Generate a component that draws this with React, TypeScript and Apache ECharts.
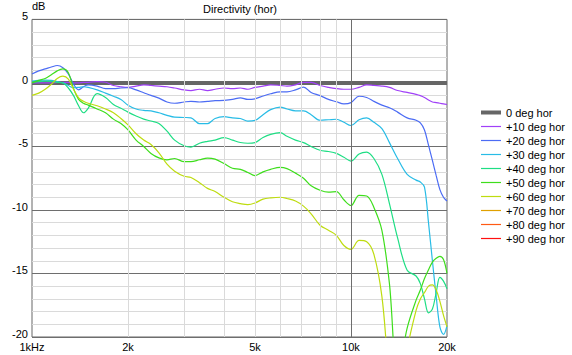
import { useEffect, useRef } from 'react';
import * as echarts from 'echarts';

const FREQS = [
  1000, 1050, 1100, 1150, 1200, 1250, 1300, 1350, 1400, 1450, 1500,
  1600, 1700, 1800, 1900, 2000,
  2120, 2240, 2360, 2500, 2650, 2800,
  3000, 3150, 3350, 3550, 3750,
  4000, 4250, 4500, 4750,
  5000, 5300, 5600,
  6000, 6300, 6700,
  7100, 7500,
  8000, 8500,
  9000, 9500,
  10000,
  10600, 11200, 11800,
  12500, 13200,
  14000, 15000, 16000, 16500, 17000, 17500, 18000, 18500, 19000, 19500, 20000,
];

const DEG0 = [
  0, 0, 0, 0, 0, 0, 0, 0, 0, 0, 0,
  0, 0, 0, 0, 0,
  0, 0, 0, 0, 0, 0,
  0, 0, 0, 0, 0,
  0, 0, 0, 0,
  0, 0, 0,
  0, 0, 0,
  0, 0,
  0, 0,
  0, 0,
  0,
  0, 0, 0,
  0, 0,
  0, 0, 0, 0, 0, 0, 0, 0, 0, 0, 0,
];

const P10 = [
  0, 0, 0, 0, 0.05, 0.05, 0.05, 0, 0, 0.05, 0.05,
  0.1, 0.05, -0.2, -0.3, -0.35,
  -0.25, -0.15, -0.2, -0.25, -0.3, -0.4,
  -0.55, -0.6, -0.5, -0.6, -0.5,
  -0.4, -0.45, -0.4, -0.5,
  -0.35, -0.25, -0.15,
  -0.2, -0.25, -0.15,
  0.05, 0.05,
  -0.2, -0.35,
  -0.45, -0.5,
  -0.5,
  -0.35, -0.15, -0.2,
  -0.25, -0.35,
  -0.6, -0.75, -0.9, -1.0, -1.15, -1.35, -1.5, -1.55, -1.6, -1.65, -1.7,
];

const P20 = [
  0.7, 0.95, 1.1, 1.25, 1.37, 1.2, 0.7, -0.1, -0.55, -0.3, -0.15,
  -0.25, -0.45, -0.45, -0.4, -0.38,
  -0.55, -0.77, -0.98, -1.2, -1.5, -1.6,
  -1.5, -1.45, -1.5, -1.45, -1.4,
  -1.37, -1.3, -1.17, -1.3,
  -1.25, -1.03, -0.85,
  -0.7, -0.7, -0.55,
  -0.33, -0.75,
  -1.0, -1.3,
  -1.48, -1.65,
  -1.55,
  -1.05, -1.15, -1.45,
  -1.75, -1.95,
  -2.3, -2.75, -2.94, -3.15, -3.7, -4.9, -6.1, -7.3, -8.4, -9.0, -9.3,
];

const P30 = [
  0.14, 0.2, 0.22, 0.2, 0.1, 0, -0.2, -0.38, -0.35, -0.3, -0.35,
  -0.55, -0.8, -1.05, -1.3, -1.75,
  -2.05, -2.16, -2.2, -2.35, -2.55, -2.7,
  -2.72, -2.75, -3.2, -3.2, -2.8,
  -2.66, -2.75, -2.8, -3.0,
  -2.95, -2.5, -2.1,
  -1.9, -2.05, -2.2,
  -2.2, -2.5,
  -2.94, -2.9,
  -2.86, -3.1,
  -3.35,
  -2.9, -2.75, -3.1,
  -3.6, -4.7,
  -5.95, -7.2, -7.65, -7.8, -8.2, -11.0, -14.0, -16.8, -19.2, -19.8, -19.1,
];

const P40 = [
  0.06, 0.1, 0.14, 0.12, 0.05, 0, -0.4, -1.0, -1.8, -2.35, -2.0,
  -0.85, -1.15, -1.69, -2.0, -2.3,
  -2.6, -2.85, -3.0, -3.2, -3.8, -4.5,
  -4.95, -5.05, -4.75, -4.6, -4.5,
  -4.3, -4.5, -4.69, -4.75,
  -4.7, -4.3, -4.05,
  -3.92, -4.2, -4.5,
  -4.7, -5.0,
  -5.3, -5.4,
  -5.55, -5.85,
  -6.15,
  -5.6, -5.45, -5.95,
  -7.2, -9.5,
  -12.2, -14.75, -15.2, -15.8, -17.0, -18.1, -17.8, -16.5, -15.3, -15.6, -16.2,
];

const P50 = [
  0, 0.2, 0.35, 0.65, 0.95, 1.1, 0.8, -0.45, -1.3, -1.6, -1.75,
  -2.05, -2.35, -2.85, -3.2, -3.7,
  -4.5, -5.0, -5.55, -5.9, -6.05, -5.95,
  -6.2, -6.2, -6.05, -5.92, -6.0,
  -6.35, -6.72, -6.8, -7.05,
  -7.3, -7.0, -6.8,
  -6.65, -6.75, -7.1,
  -7.5, -8.1,
  -8.45, -8.6,
  -8.55, -9.2,
  -9.65,
  -8.85, -8.9, -9.8,
  -11.6, -15.8,
  -23, -19.3, -17.1, -16.3, -15.4, -14.7, -14.1, -13.8, -13.65, -13.9, -15.0,
];

const P60 = [
  -0.98, -0.8, -0.5, -0.1, 0.35, 0.53, 0.3, -0.5, -1.17, -1.45, -1.6,
  -1.8, -2.05, -2.35, -2.8, -3.3,
  -4.0, -4.5, -4.85, -5.5, -6.4, -6.95,
  -7.35, -7.44, -7.85, -8.3, -8.55,
  -9.0, -9.35, -9.5, -9.58,
  -9.45, -9.15, -9.05,
  -9.0, -9.1, -9.3,
  -9.7, -10.3,
  -11.2, -11.6,
  -12.0, -12.8,
  -13.1,
  -12.4, -12.5, -13.5,
  -16.8, -23,
  -26, -21, -17.9, -17.0, -16.5, -16.0, -15.9, -16.3, -17.2, -18.3, -19.2,
];

const P70: number[] = [];
const P80: number[] = [];
const P90: number[] = [];

const SERIES_NAMES = [
  '0 deg hor', '+10 deg hor', '+20 deg hor', '+30 deg hor', '+40 deg hor',
  '+50 deg hor', '+60 deg hor', '+70 deg hor', '+80 deg hor', '+90 deg hor',
];
const COLORS = [
  '#666666', '#a040f8', '#4c6cf4', '#28bce6', '#1ede84',
  '#3ede1c', '#bedc10', '#e0a000', '#ff5a14', '#ff1010',
];
const X_LABELS = [1000, 2000, 5000, 10000, 20000];
const X_LIGHT_GRID = [2000, 3000, 4000, 5000, 6000, 7000, 8000, 9000];
const X_DARK_GRID = [10000];

export default function App() {
  const ref = useRef<HTMLDivElement>(null);
  useEffect(() => {
    const chart = echarts.init(ref.current!, null, { renderer: 'svg' });
    const font = "'Liberation Sans', Arial, sans-serif";
    const curves = [DEG0, P10, P20, P30, P40, P50, P60, P70, P80, P90];
    const series: any[] = [
      {
        name: '__grid',
        type: 'line',
        data: [],
        z: 1,
        silent: true,
        markLine: {
          silent: true,
          symbol: ['none', 'none'],
          label: { show: false },
          animation: false,
          data: [
            ...X_LIGHT_GRID.map((v) => ({ xAxis: v, lineStyle: { color: '#dadada', width: 1, type: 'solid' } })),
            ...X_DARK_GRID.map((v) => ({ xAxis: v, lineStyle: { color: '#6e6e6e', width: 1, type: 'solid' } })),
          ],
        },
      },
      ...SERIES_NAMES.map((name, i) => ({
        name,
        type: 'line',
        data: curves[i].map((v, k) => [FREQS[k], v]),
        symbol: 'none',
        showSymbol: false,
        smooth: 0.35,
        z: 3,
        lineStyle: { color: COLORS[i], width: i === 0 ? 4 : 1.2 },
        itemStyle: { color: COLORS[i] },
        emphasis: { disabled: true },
      })),
    ];
    chart.setOption({
      animation: false,
      backgroundColor: '#ffffff',
      textStyle: { fontFamily: font },
      title: {
        text: 'Directivity (hor)',
        left: 240,
        top: 3,
        padding: 0,
        textAlign: 'center',
        textStyle: { fontSize: 11, fontWeight: 'normal', color: '#000', fontFamily: font },
      },
      legend: {
        orient: 'vertical',
        left: 481,
        top: 107,
        padding: 0,
        itemWidth: 20,
        itemHeight: 11,
        itemGap: 3,
        symbolKeepAspect: true,
        selectedMode: false,
        data: SERIES_NAMES.map((name, i) => ({
          name,
          icon: i === 0 ? 'path://M0 0H20V4H0Z' : 'path://M0 0H20V1.2H0Z',
          itemStyle: { color: COLORS[i], borderWidth: 0 },
        })),
        textStyle: { fontSize: 11, color: '#000', fontFamily: font },
      },
      grid: {
        left: 32,
        right: 125,
        top: 18,
        bottom: 18,
        show: true,
        borderColor: '#666666',
        borderWidth: 1,
        backgroundColor: '#ffffff',
      },
      xAxis: {
        type: 'log',
        logBase: 10,
        min: 1000,
        max: 20000,
        axisLine: { show: false },
        axisTick: { show: false },
        splitLine: { show: false },
        minorSplitLine: { show: false },
        axisLabel: {
          customValues: X_LABELS,
          showMinLabel: true,
          showMaxLabel: true,
          margin: 4,
          fontSize: 11,
          color: '#000',
          fontFamily: font,
          formatter: (v: number) => (v === 1000 ? '1kHz' : `${v / 1000}k`),
        },
      },
      yAxis: {
        type: 'value',
        min: -20,
        max: 5,
        interval: 5,
        name: 'dB',
        nameLocation: 'end',
        nameGap: 2,
        nameTextStyle: { align: 'left', fontSize: 11, color: '#000', fontFamily: font },
        axisLine: { show: false },
        axisTick: { show: false },
        axisLabel: {
          margin: 4,
          fontSize: 11,
          color: '#000',
          fontFamily: font,
          verticalAlign: 'bottom',
          lineHeight: 6,
        },
        splitLine: { show: true, lineStyle: { color: '#6e6e6e', width: 1 } },
        minorTick: { show: false, splitNumber: 5 },
        minorSplitLine: { show: true, lineStyle: { color: '#dadada', width: 1 } },
      },
      series,
    });
    return () => chart.dispose();
  }, []);
  return (
    <div
      ref={ref}
      style={{ position: 'fixed', left: 0, top: 0, width: 572, height: 355, background: '#fff' }}
    />
  );
}
